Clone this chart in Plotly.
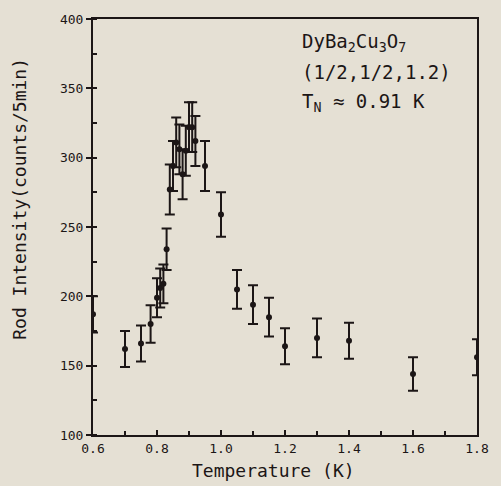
import plotly.graph_objects as go

temperature = [0.60, 0.70, 0.75, 0.78, 0.80, 0.81, 0.82, 0.83, 0.84, 0.85, 0.86, 0.87,
               0.88, 0.89, 0.90, 0.91, 0.92, 0.95, 1.00, 1.05, 1.10, 1.15, 1.20,
               1.30, 1.40, 1.60, 1.80]
intensity = [187, 162, 166, 180, 199, 206, 209, 234, 277, 294, 311, 306,
             288, 305, 322, 322, 312, 294, 259, 205, 194, 185, 164,
             170, 168, 144, 156]
error = [13, 13, 13, 13.5, 14, 14, 14, 15, 18, 18, 18, 18,
         18, 18, 18, 18, 18, 18, 16, 14, 14, 14, 13,
         14, 13, 12, 13]

x_ticks = [0.6, 0.8, 1.0, 1.2, 1.4, 1.6, 1.8]
x_ticklabels = ["0.6", "0.8", "1.0", "1.2", "1.4", "1.6", "1.8"]
y_ticks = [100, 150, 200, 250, 300, 350, 400]

bg = "#e5e0d4"
ink = "#1c1616"
mono = "DejaVu Sans Mono"

fig = go.Figure()
fig.add_trace(go.Scatter(
    x=temperature, y=intensity, mode="markers",
    marker=dict(color=ink, size=6),
    error_y=dict(type="data", array=error, visible=True, color=ink, thickness=2, width=5),
    showlegend=False,
))

fig.update_layout(
    width=501, height=486,
    margin=dict(l=93, r=24, t=14, b=51),
    paper_bgcolor=bg, plot_bgcolor=bg,
    font=dict(family=mono, color=ink),
    xaxis=dict(
        range=[0.6, 1.8], tickvals=x_ticks, ticktext=x_ticklabels,
        ticks="inside", ticklen=5, tickwidth=1.5, tickcolor=ink,
        minor=dict(dtick=0.1, tick0=0.6, ticks="inside", ticklen=4, tickcolor=ink),
        showline=True, linecolor=ink, linewidth=2, mirror=True,
        showgrid=False, zeroline=False,
        tickfont=dict(family=mono, size=13, color=ink),
    ),
    yaxis=dict(
        range=[100, 400], tickvals=y_ticks,
        ticks="outside", ticklen=5, tickwidth=1.5, tickcolor=ink,
        minor=dict(dtick=25, tick0=100, ticks="inside", ticklen=4, tickcolor=ink),
        showline=True, linecolor=ink, linewidth=2, mirror=True,
        showgrid=False, zeroline=False,
        tickfont=dict(family=mono, size=13, color=ink),
    ),
    annotations=[
        dict(xref="paper", yref="paper", x=0.471, y=-0.085, xanchor="center", yanchor="middle",
             text="Temperature (K)", showarrow=False,
             font=dict(family=mono, size=18, color=ink)),
        dict(xref="paper", yref="paper", x=-0.190, y=0.568, xanchor="center", yanchor="middle",
             text="Rod Intensity(counts/5min)", showarrow=False, textangle=-90,
             font=dict(family=mono, size=18, color=ink)),
        dict(xref="paper", yref="paper", x=0.540, y=0.943, xanchor="left", yanchor="middle",
             text="DyBa<sub>2</sub>Cu<sub>3</sub>O<sub>7</sub>", showarrow=False,
             font=dict(family=mono, size=19, color=ink)),
        dict(xref="paper", yref="paper", x=0.540, y=0.872, xanchor="left", yanchor="middle",
             text="(1/2,1/2,1.2)", showarrow=False,
             font=dict(family=mono, size=19, color=ink)),
        dict(xref="paper", yref="paper", x=0.540, y=0.799, xanchor="left", yanchor="middle",
             text="T<sub>N</sub> ≈ 0.91 K", showarrow=False,
             font=dict(family=mono, size=19, color=ink)),
    ],
)

fig.write_html("out.html")
